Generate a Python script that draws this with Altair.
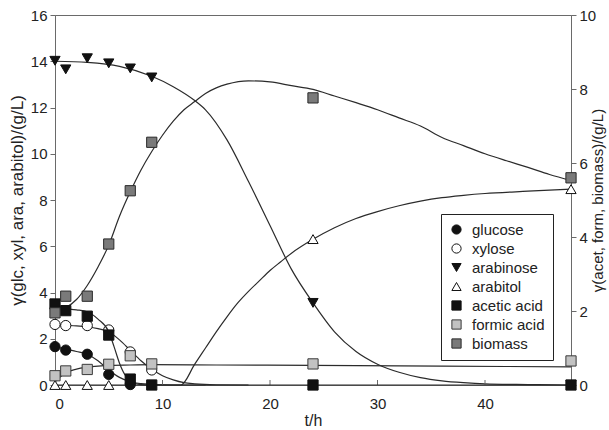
import altair as alt
import pandas as pd

# ---- legend / series definitions ----
series_names = ["glucose", "xylose", "arabinose", "arabitol", "acetic acid", "formic acid", "biomass"]
shapes = ["circle", "circle", "triangle-down", "triangle-up", "square", "square", "square"]
fills = ["#111111", "#ffffff", "#111111", "#ffffff", "#111111", "#c2c2c2", "#7a7a7a"]
strokes = ["#111111", "#111111", "#111111", "#111111", "#111111", "#3a3a3a", "#2a2a2a"]

# ---- measured points (left axis, g/L) ----
t_glc = [0, 1, 3, 5, 7]
glc = [1.66, 1.51, 1.33, 0.46, 0.02]
t_xyl = [0, 1, 3, 5, 7, 9]
xyl = [2.62, 2.57, 2.57, 2.38, 1.43, 0.65]
t_ara = [0, 1, 3, 5, 7, 9, 24, 48]
ara = [14.02, 13.65, 14.13, 13.91, 13.69, 13.3, 3.55, 0.0]
t_abt = [0, 1, 3, 5, 24, 48]
abt = [0.0, 0.0, 0.0, 0.0, 6.31, 8.47]

# ---- measured points (right axis, g/L) ----
t_ace = [0, 1, 3, 5, 7, 9, 24, 48]
ace = [2.19, 2.01, 1.86, 1.35, 0.16, 0.0, 0.0, 0.0]
t_for = [0, 1, 3, 5, 7, 9, 24, 48]
form = [0.25, 0.38, 0.42, 0.56, 0.79, 0.57, 0.57, 0.65]
t_bio = [0, 1, 3, 5, 7, 9, 24, 48]
bio = [1.95, 2.40, 2.40, 3.81, 5.25, 6.56, 7.76, 5.60]

# ---- fitted curves (left axis) ----
ct_glc = [0, 1, 2, 3, 4, 5, 6, 7, 8, 9, 10, 12, 14]
cv_glc = [1.66, 1.55, 1.45, 1.33, 1.05, 0.65, 0.33, 0.14, 0.06, 0.03, 0.01, 0, 0]
ct_xyl = [0, 1, 2, 3, 4, 5, 6, 7, 8, 9, 10, 11, 12, 13, 15, 18]
cv_xyl = [2.6, 2.58, 2.56, 2.52, 2.44, 2.3, 1.95, 1.5, 1.05, 0.68, 0.4, 0.22, 0.1, 0.05, 0.01, 0]
ct_ara = [0, 3, 6, 9, 11, 13, 14, 16, 18, 20, 22, 24, 26, 28, 30, 32, 34, 36, 38, 40, 44, 48]
cv_ara = [14.0, 13.95, 13.78, 13.35, 12.9, 12.3, 11.9, 10.6, 8.8, 6.9, 5.0, 3.55, 2.3, 1.45, 0.9,
          0.55, 0.32, 0.18, 0.1, 0.05, 0.02, 0]
ct_abt = [0, 11.7, 13, 14, 15, 16, 17, 18, 19, 20, 21, 22, 24, 26, 28, 30, 32, 34, 36, 38, 40, 44, 48]
cv_abt = [0, 0, 0.9, 1.6, 2.3, 2.95, 3.55, 4.05, 4.5, 4.95, 5.33, 5.7, 6.3, 6.8, 7.2, 7.5, 7.75,
          7.95, 8.1, 8.2, 8.28, 8.38, 8.47]

# ---- fitted curves (right axis) ----
ct_ace = [0, 1, 2, 3, 4, 5, 5.5, 6, 6.5, 7, 7.5, 8, 9, 12, 48]
cv_ace = [2.07, 2.06, 2.03, 1.98, 1.78, 1.44, 1.03, 0.59, 0.28, 0.125, 0.04, 0.01, 0, 0, 0]
ct_for = [0, 0.5, 1, 2, 3, 4, 5, 7, 9, 15, 24, 36, 48]
cv_for = [0.08, 0.22, 0.33, 0.43, 0.48, 0.51, 0.53, 0.54, 0.55, 0.54, 0.53, 0.51, 0.49]
ct_bio = [0, 1, 2, 3, 4, 5, 6, 7, 8, 9, 10, 11, 12, 13, 14, 15, 16, 18, 20, 22, 24, 26, 28, 30,
          32, 34, 36, 38, 40, 42, 44, 46, 48]
cv_bio = [2.0, 2.09, 2.31, 2.69, 3.19, 3.78, 4.56, 5.22, 5.81, 6.31, 6.75, 7.13, 7.44, 7.66, 7.88,
          8.03, 8.13, 8.22, 8.19, 8.09, 7.99, 7.81, 7.63, 7.44, 7.22, 7.0, 6.69, 6.47, 6.25, 6.06,
          5.88, 5.69, 5.53]

x_ticks = [0, 10, 20, 30, 40]


def long(name, ts, vs):
    return pd.DataFrame({"t": ts, "v": vs, "series": name})


left_pts = pd.concat([long("glucose", t_glc, glc), long("xylose", t_xyl, xyl),
                      long("arabinose", t_ara, ara), long("arabitol", t_abt, abt)])
right_pts = pd.concat([long("acetic acid", t_ace, ace), long("formic acid", t_for, form),
                       long("biomass", t_bio, bio)])
left_cur = pd.concat([long("glucose", ct_glc, cv_glc), long("xylose", ct_xyl, cv_xyl),
                      long("arabinose", ct_ara, cv_ara), long("arabitol", ct_abt, cv_abt)])
right_cur = pd.concat([long("acetic acid", ct_ace, cv_ace), long("formic acid", ct_for, cv_for),
                       long("biomass", ct_bio, cv_bio)])
tick_df = pd.DataFrame({"t": x_ticks})

FONT = "Liberation Sans"
AX = "#6a6a6a"

xenc = alt.X("t:Q", scale=alt.Scale(domain=[0, 48], nice=False, zero=False),
             axis=alt.Axis(values=x_ticks, format="d", tickSize=0, labelPadding=11,
                           title="t/h", titlePadding=1, titleFontSize=16))

yleft_scale = alt.Scale(domain=[0, 16], nice=False)
yright_scale = alt.Scale(domain=[0, 10], nice=False)
yleft_axis = alt.Axis(orient="left", values=list(range(0, 17, 2)), format="d",
                      title="γ(glc, xyl, ara, arabitol)/(g/L)", titlePadding=4)
yright_axis = alt.Axis(orient="right", values=list(range(0, 11, 2)), format="d",
                       title="γ(acet, form, biomass)/(g/L)", titlePadding=-5,
                       titleAngle=270, titleBaseline="top", titleFontSize=15)

lg = alt.Legend(title=None)
shape_enc = alt.Shape("series:N", scale=alt.Scale(domain=series_names, range=shapes), legend=lg)
fill_enc = alt.Fill("series:N", scale=alt.Scale(domain=series_names, range=fills), legend=lg)
stroke_enc = alt.Stroke("series:N", scale=alt.Scale(domain=series_names, range=strokes), legend=lg)

line_kw = dict(interpolate="monotone", color="#2b2b2b", strokeWidth=1.2)
pt_kw = dict(size=105, strokeWidth=1, opacity=1, fillOpacity=1)

left_lines = alt.Chart(left_cur).mark_line(**line_kw).encode(
    x=xenc, y=alt.Y("v:Q", scale=yleft_scale, axis=yleft_axis), detail="series:N")
left_points = alt.Chart(left_pts).mark_point(**pt_kw).encode(
    x=xenc, y=alt.Y("v:Q", scale=yleft_scale, axis=yleft_axis),
    shape=shape_enc, fill=fill_enc, stroke=stroke_enc)
tick_rules = alt.Chart(tick_df).mark_rule(color=AX, strokeWidth=1).encode(
    x=xenc, y=alt.value(370), y2=alt.value(365))

right_lines = alt.Chart(right_cur).mark_line(**line_kw).encode(
    x=xenc, y=alt.Y("v:Q", scale=yright_scale, axis=yright_axis), detail="series:N")
right_points = alt.Chart(right_pts).mark_point(**pt_kw).encode(
    x=xenc, y=alt.Y("v:Q", scale=yright_scale, axis=yright_axis),
    shape=shape_enc, fill=fill_enc, stroke=stroke_enc)

left = alt.layer(left_lines, tick_rules, left_points)
right = alt.layer(right_lines, right_points)

chart = alt.layer(left, right).resolve_scale(y="independent").properties(
    width=516, height=370,
    padding={"left": 55, "top": 15, "right": 38, "bottom": 45},
    autosize=alt.AutoSizeParams(type="none"),
    background="white",
).configure_view(
    stroke=AX, strokeWidth=1
).configure_axis(
    grid=False, domainColor=AX, tickColor=AX, tickSize=5, labelFont=FONT, labelFontSize=15,
    labelColor="#222222", labelPadding=3, titleFont=FONT, titleFontSize=17,
    titleFontWeight="normal", titleColor="#222222"
).configure_legend(
    orient="none", legendX=386, legendY=199, fillColor="white", strokeColor="#222222",
    padding=8, labelFont=FONT, labelFontSize=15, labelColor="#222222", symbolSize=85,
    symbolStrokeWidth=1, symbolOpacity=1, rowPadding=3, labelOffset=8, cornerRadius=0
)

chart.save("out.html", embed_options={"renderer": "svg", "actions": False})
